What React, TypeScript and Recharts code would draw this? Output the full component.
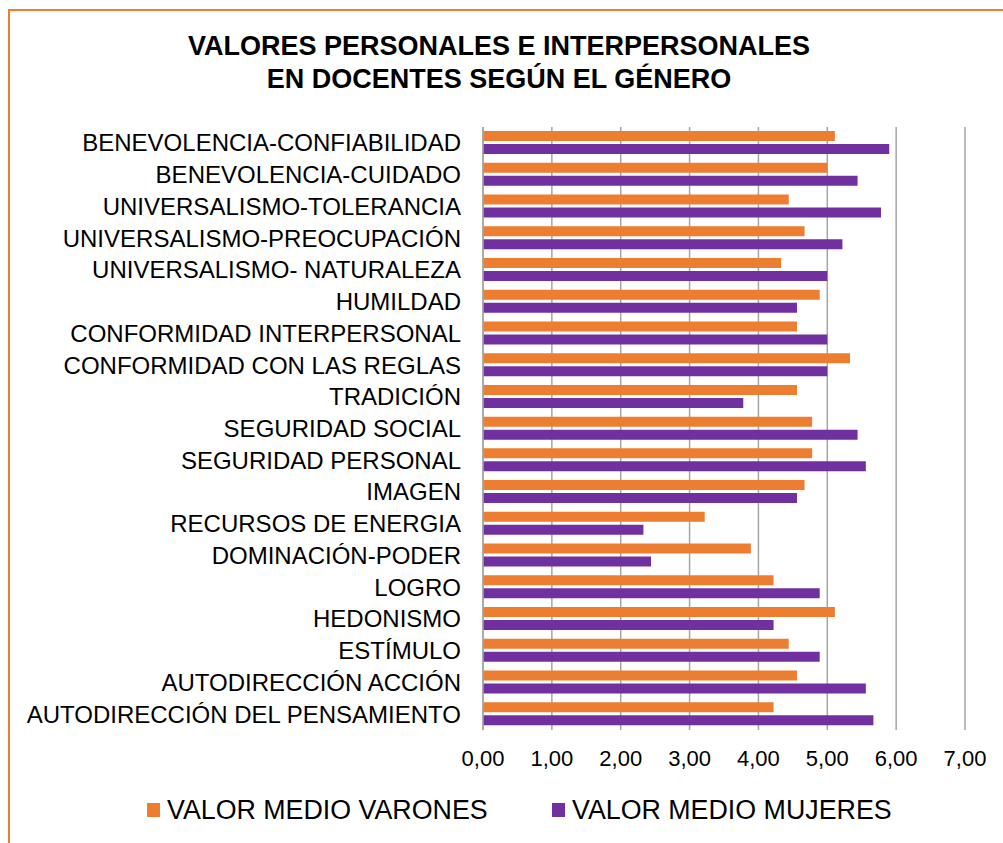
import { BarChart, Bar, XAxis, YAxis, CartesianGrid } from 'recharts';

const CATEGORIES = [
  'BENEVOLENCIA-CONFIABILIDAD',
  'BENEVOLENCIA-CUIDADO',
  'UNIVERSALISMO-TOLERANCIA',
  'UNIVERSALISMO-PREOCUPACIÓN',
  'UNIVERSALISMO- NATURALEZA ',
  'HUMILDAD',
  'CONFORMIDAD INTERPERSONAL',
  'CONFORMIDAD CON LAS REGLAS',
  'TRADICIÓN',
  'SEGURIDAD SOCIAL',
  'SEGURIDAD PERSONAL',
  'IMAGEN',
  'RECURSOS DE ENERGIA',
  'DOMINACIÓN-PODER',
  'LOGRO',
  'HEDONISMO',
  'ESTÍMULO',
  'AUTODIRECCIÓN ACCIÓN',
  'AUTODIRECCIÓN DEL PENSAMIENTO',
];

// valor medio varones (orange)
const VARONES = [5.11, 5.0, 4.44, 4.67, 4.33, 4.89, 4.56, 5.33, 4.56, 4.78, 4.78, 4.67, 3.22, 3.89, 4.22, 5.11, 4.44, 4.56, 4.22];
// valor medio mujeres (purple)
const MUJERES = [5.9, 5.44, 5.78, 5.22, 5.0, 4.56, 5.0, 5.0, 3.78, 5.44, 5.56, 4.56, 2.33, 2.44, 4.89, 4.22, 4.89, 5.56, 5.67];

const X_TICKS = [0, 1, 2, 3, 4, 5, 6, 7];

const ORANGE = '#ED7D31';
const PURPLE = '#7030A0';
const GRID = '#A6A6A6';
const FONT = '"Liberation Sans", Arial, sans-serif';

const data = CATEGORIES.map((name, i) => ({
  name,
  varones: VARONES[i],
  mujeres: MUJERES[i],
}));

export default function App() {
  return (
    <div style={{ position: 'absolute', left: 0, top: 0, width: 1003, height: 843, background: '#fff', overflow: 'hidden', fontFamily: FONT }}>
      <div
        style={{
          position: 'absolute',
          left: 8,
          top: 9,
          width: 1010,
          height: 850,
          border: `2.5px solid ${ORANGE}`,
          boxSizing: 'border-box',
        }}
      />
      <div
        style={{
          position: 'absolute',
          left: 0,
          top: 30,
          width: 998,
          textAlign: 'center',
          fontWeight: 'bold',
          fontSize: 27,
          lineHeight: '33px',
          color: '#000',
        }}
      >
        VALORES PERSONALES E INTERPERSONALES
        <br />
        EN DOCENTES SEGÚN EL GÉNERO
      </div>

      <div style={{ position: 'absolute', left: 0, top: 0 }}>
        <BarChart
          width={1003}
          height={843}
          data={data}
          layout="vertical"
          margin={{ top: 127, right: 38, left: 0, bottom: 0 }}
          barSize={10}
          barGap={3}
        >
          <CartesianGrid horizontal={false} stroke={GRID} strokeWidth={1.5} />
          <XAxis
            type="number"
            domain={[0, 7]}
            ticks={X_TICKS}
            tickFormatter={(v) => v.toFixed(2).replace('.', ',')}
            axisLine={false}
            tickLine={false}
            tickMargin={14}
            height={113}
            tick={{ fill: '#000', fontSize: 22, fontFamily: FONT }}
          />
          <YAxis
            type="category"
            dataKey="name"
            width={483}
            interval={0}
            axisLine={{ stroke: GRID, strokeWidth: 1.5 }}
            tickLine={false}
            tickMargin={16}
            tick={{ fill: '#000', fontSize: 24, fontFamily: FONT }}
          />
          <Bar dataKey="varones" fill={ORANGE} isAnimationActive={false} />
          <Bar dataKey="mujeres" fill={PURPLE} isAnimationActive={false} />
        </BarChart>
      </div>

      <div style={{ position: 'absolute', left: 147, top: 795, display: 'flex', alignItems: 'center', fontSize: 26.8, lineHeight: '30px', color: '#000' }}>
        <span style={{ display: 'inline-block', width: 13, height: 14, background: ORANGE, marginRight: 7 }} />
        VALOR MEDIO VARONES
      </div>
      <div style={{ position: 'absolute', left: 552, top: 795, display: 'flex', alignItems: 'center', fontSize: 26.8, lineHeight: '30px', color: '#000' }}>
        <span style={{ display: 'inline-block', width: 13, height: 14, background: PURPLE, marginRight: 7 }} />
        VALOR MEDIO MUJERES
      </div>
    </div>
  );
}
